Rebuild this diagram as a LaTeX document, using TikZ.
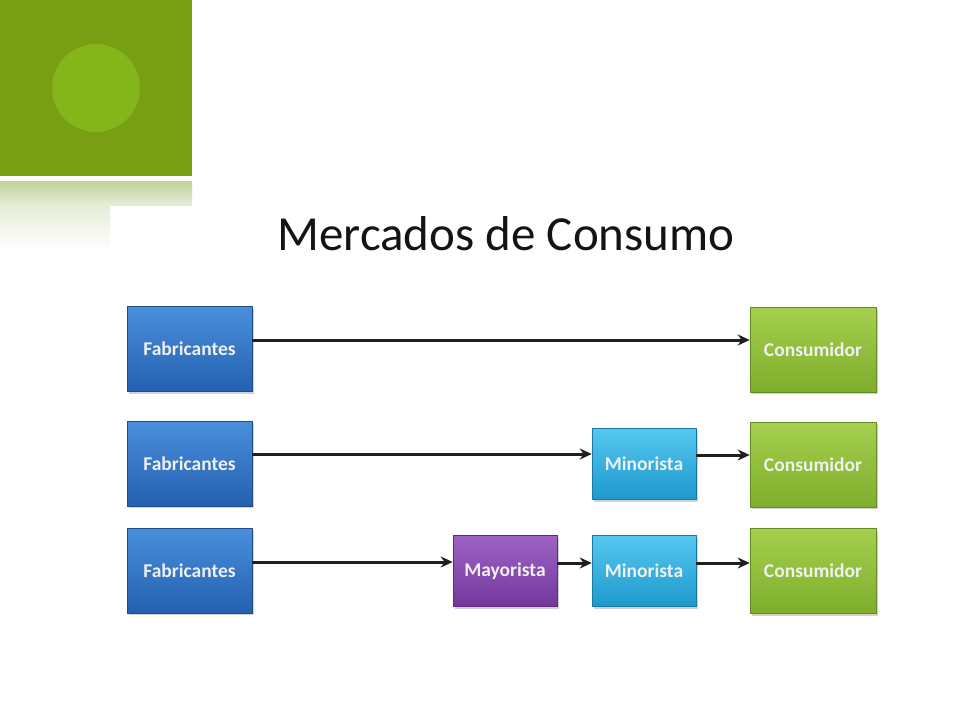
\documentclass[tikz,border=0pt]{standalone}
\usepackage{fontspec}
\setmainfont{Carlito}
\usetikzlibrary{arrows.meta,shadows}
\definecolor{sqgreen}{HTML}{789E13}
\definecolor{circgreen}{HTML}{84B51A}
\definecolor{fadegreen}{HTML}{BFD29A}
\definecolor{bluetop}{HTML}{4A8FDC}
\definecolor{bluebot}{HTML}{2460B0}
\definecolor{greentop}{HTML}{A6CF4E}
\definecolor{greenbot}{HTML}{7EAE2C}
\definecolor{cyantop}{HTML}{55C8F0}
\definecolor{cyanbot}{HTML}{1E98CC}
\definecolor{purptop}{HTML}{9C62C4}
\definecolor{purpbot}{HTML}{74389C}
\tikzset{
  box/.style={rectangle, inner sep=0pt, text=white!94!black, font=\fontsize{19.5}{21}\selectfont\bfseries,
    drop shadow={shadow xshift=1.5pt, shadow yshift=-2pt, opacity=0.35}},
  fab/.style={box, top color=bluetop, bottom color=bluebot, draw=bluebot!80!black, line width=0.6pt,
    minimum width=125pt, minimum height=85pt},
  con/.style={box, top color=greentop, bottom color=greenbot, draw=greenbot!80!black, line width=0.6pt,
    minimum width=126pt, minimum height=85pt},
  mino/.style={box, top color=cyantop, bottom color=cyanbot, draw=cyanbot!80!black, line width=0.6pt,
    minimum width=104pt, minimum height=71pt},
  mayo/.style={box, top color=purptop, bottom color=purpbot, draw=purpbot!80!black, line width=0.6pt,
    minimum width=104pt, minimum height=71pt},
  flow/.style={line width=3pt, black!88, -{Stealth[length=12pt,width=11pt]}}
}
\begin{document}
\begin{tikzpicture}[x=1pt,y=-1pt]
\useasboundingbox (0,0) rectangle (960,720);
\fill[white] (0,0) rectangle (960,720);
% decoration
\fill[sqgreen] (0,0) rectangle (192,176);
\fill[circgreen] (96,88) circle (44);
\shade[top color=fadegreen, bottom color=fadegreen!40!white] (0,181) rectangle (192,205);
\shade[top color=fadegreen!40!white, bottom color=white] (0,205) rectangle (110,250);
% title
\node[font=\fontsize{49}{52}\selectfont, text=black!92] (title) at (506,234) {Mercados de Consumo};
% row 1
\node[fab] (f1) at (189.5,349) {Fabricantes};
\node[con] (c1) at (813,349.5) {Consumidor};
\draw[flow] (f1.east |- 0,340) -- (c1.west |- 0,340);
% row 2
\node[fab] (f2) at (189.5,463.5) {Fabricantes};
\node[mino] (m2) at (644,464) {Minorista};
\node[con] (c2) at (813,464.5) {Consumidor};
\draw[flow] (f2.east |- 0,454) -- (m2.west |- 0,454);
\draw[flow] (m2.east |- 0,455) -- (c2.west |- 0,455);
% row 3
\node[fab] (f3) at (189.5,570.5) {Fabricantes};
\node[mayo] (y3) at (505,571) {Mayorista};
\node[mino] (m3) at (644,571) {Minorista};
\node[con] (c3) at (813,571) {Consumidor};
\draw[flow] (f3.east |- 0,562) -- (y3.west |- 0,562);
\draw[flow] (y3.east |- 0,563) -- (m3.west |- 0,563);
\draw[flow] (m3.east |- 0,563) -- (c3.west |- 0,563);
\end{tikzpicture}
\end{document}
